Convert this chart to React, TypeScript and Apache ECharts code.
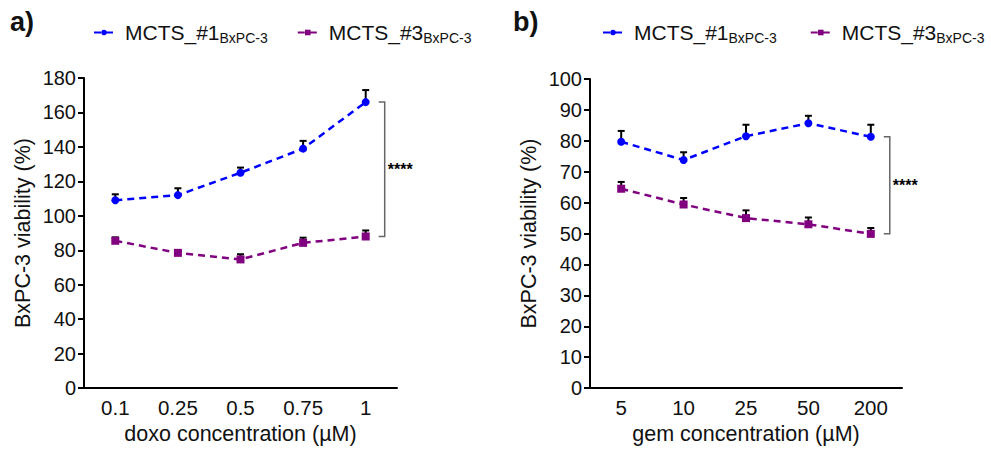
import React, { useEffect, useRef } from "react";
import * as echarts from "echarts";

const doxoCategories = ["0.1", "0.25", "0.5", "0.75", "1"];
const doxoMcts1 = [109, 112, 125, 139, 166];
const doxoMcts1Err = [3.5, 4, 3, 4.5, 7];
const doxoMcts3 = [85.5, 78.5, 74.7, 84.3, 88];
const doxoMcts3Err = [2, 1.2, 3, 3, 3.5];

const gemCategories = ["5", "10", "25", "50", "200"];
const gemMcts1 = [79.7, 73.8, 81.5, 85.7, 81.3];
const gemMcts1Err = [3.5, 2.5, 3.7, 2.4, 3.9];
const gemMcts3 = [64.5, 59.4, 55, 53, 49.9];
const gemMcts3Err = [2.2, 2.1, 2.5, 2.2, 1.9];

const doxoYTicks = { min: 0, max: 180, interval: 20 };
const gemYTicks = { min: 0, max: 100, interval: 10 };

const seriesNames = ["MCTS_#1", "MCTS_#3"];
const significance = "****";

const BLUE = "#0000ff";
const PURPLE = "#800080";
const FONT = "Liberation Sans, Arial, sans-serif";

function errData(vals: number[], errs: number[]) {
  return vals.map((v, i) => [i, v, errs[i]]);
}

function errorBarSeries(vals: number[], errs: number[], axisIndex: number) {
  return {
    type: "custom",
    name: "err",
    xAxisIndex: axisIndex,
    yAxisIndex: axisIndex,
    z: 2,
    clip: false,
    encode: { x: 0, y: 1 },
    data: errData(vals, errs),
    renderItem: (params: any, api: any) => {
      const x = api.value(0);
      const y = api.value(1);
      const e = api.value(2);
      const p0 = api.coord([x, y]);
      const p1 = api.coord([x, y + e]);
      return {
        type: "group",
        children: [
          {
            type: "line",
            shape: { x1: p0[0], y1: p0[1], x2: p1[0], y2: p1[1] },
            style: { stroke: "#000", lineWidth: 2 },
          },
          {
            type: "line",
            shape: { x1: p1[0] - 3.5, y1: p1[1], x2: p1[0] + 3.5, y2: p1[1] },
            style: { stroke: "#000", lineWidth: 2 },
          },
        ],
      };
    },
  };
}

function bracketSeries(top: number, bottom: number, idx: number, axisIndex: number) {
  return {
    type: "custom",
    name: "bracket",
    xAxisIndex: axisIndex,
    yAxisIndex: axisIndex,
    z: 1,
    clip: false,
    encode: { x: 0, y: 1 },
    data: [[idx, top, bottom]],
    renderItem: (params: any, api: any) => {
      const pt = api.coord([api.value(0), api.value(1)]);
      const pb = api.coord([api.value(0), api.value(2)]);
      const x0 = pt[0] + 13;
      const x1 = x0 + 6;
      return {
        type: "group",
        children: [
          {
            type: "polyline",
            shape: {
              points: [
                [x0, pt[1]],
                [x1, pt[1]],
                [x1, pb[1]],
                [x0, pb[1]],
              ],
            },
            style: { stroke: "#666", lineWidth: 1.5, fill: null },
          },
          {
            type: "text",
            x: x1 + 3,
            y: (pt[1] + pb[1]) / 2,
            style: {
              text: significance,
              fill: "#000",
              font: `bold 16px ${FONT}`,
              textVerticalAlign: "middle",
              textAlign: "left",
            },
          },
        ],
      };
    },
  };
}

function lineSeries(name: string, vals: number[], color: string, symbol: string, axisIndex: number) {
  return {
    type: "line",
    name,
    xAxisIndex: axisIndex,
    yAxisIndex: axisIndex,
    data: vals,
    z: 3,
    symbol,
    symbolSize: 8,
    showAllSymbol: true,
    itemStyle: { color },
    lineStyle: { color, width: 2.5, type: [7, 5] },
  };
}

function xAxis(cats: string[], name: string, gridIndex: number) {
  return {
    type: "category",
    gridIndex,
    data: cats,
    boundaryGap: true,
    name,
    nameLocation: "middle",
    nameGap: 33,
    nameTextStyle: { fontSize: 21.5, color: "#111", fontFamily: FONT },
    axisLine: { show: true, lineStyle: { color: "#000", width: 2 } },
    axisTick: { show: false },
    axisLabel: { fontSize: 20.5, color: "#111", fontFamily: FONT, margin: 9 },
    splitLine: { show: false },
  };
}

function yAxis(t: { min: number; max: number; interval: number }, gridIndex: number) {
  return {
    type: "value",
    gridIndex,
    min: t.min,
    max: t.max,
    interval: t.interval,
    name: "BxPC-3 viability (%)",
    nameLocation: "middle",
    nameRotate: 90,
    nameGap: 50,
    nameTextStyle: { fontSize: 21.5, color: "#111", fontFamily: FONT },
    axisLine: { show: true, lineStyle: { color: "#000", width: 2 } },
    axisTick: { show: true, length: 6, inside: false, lineStyle: { color: "#000", width: 2 } },
    axisLabel: { fontSize: 20, color: "#111", fontFamily: FONT, margin: 8 },
    splitLine: { show: false },
  };
}

function legend(left: number, gap: number) {
  return {
    data: seriesNames,
    left,
    top: 17,
    itemWidth: 20,
    itemHeight: 7,
    itemGap: gap,
    formatter: (n: string) => `{m|${n}}{s|BxPC-3}`,
    textStyle: {
      fontFamily: FONT,
      color: "#111",
      rich: {
        m: { fontSize: 21, fontFamily: FONT, color: "#111", lineHeight: 24, padding: [0, 0, 0, 6] },
        s: { fontSize: 14, fontFamily: FONT, color: "#111", lineHeight: 6, verticalAlign: "bottom" },
      },
    },
  };
}

export default function App() {
  const ref = useRef<HTMLDivElement>(null);
  useEffect(() => {
    document.body.style.margin = "0";
    if (!ref.current) return;
    const chart = echarts.init(ref.current, null, { renderer: "svg" });
    chart.setOption({
      animation: false,
      backgroundColor: "#fff",
      textStyle: { fontFamily: FONT },
      legend: [legend(88, 29), legend(597, 33)],
      grid: [
        { left: 84, top: 78, width: 313, height: 314 },
        { left: 590, top: 79, width: 312, height: 312 },
      ],
      xAxis: [
        xAxis(doxoCategories, "doxo concentration (µM)", 0),
        xAxis(gemCategories, "gem concentration (µM)", 1),
      ],
      yAxis: [yAxis(doxoYTicks, 0), yAxis(gemYTicks, 1)],
      graphic: [
        { type: "text", left: 10, top: 8, style: { text: "a)", font: `bold 27px ${FONT}`, fill: "#111" } },
        { type: "text", left: 513, top: 8, style: { text: "b)", font: `bold 27px ${FONT}`, fill: "#111" } },
      ],
      series: [
        errorBarSeries(doxoMcts1, doxoMcts1Err, 0),
        errorBarSeries(doxoMcts3, doxoMcts3Err, 0),
        lineSeries(seriesNames[0], doxoMcts1, BLUE, "circle", 0),
        lineSeries(seriesNames[1], doxoMcts3, PURPLE, "rect", 0),
        bracketSeries(doxoMcts1[4], doxoMcts3[4], 4, 0),
        errorBarSeries(gemMcts1, gemMcts1Err, 1),
        errorBarSeries(gemMcts3, gemMcts3Err, 1),
        lineSeries(seriesNames[0], gemMcts1, BLUE, "circle", 1),
        lineSeries(seriesNames[1], gemMcts3, PURPLE, "rect", 1),
        bracketSeries(gemMcts1[4], gemMcts3[4], 4, 1),
      ],
    });
    return () => chart.dispose();
  }, []);
  return <div ref={ref} style={{ width: 991, height: 450 }} />;
}
